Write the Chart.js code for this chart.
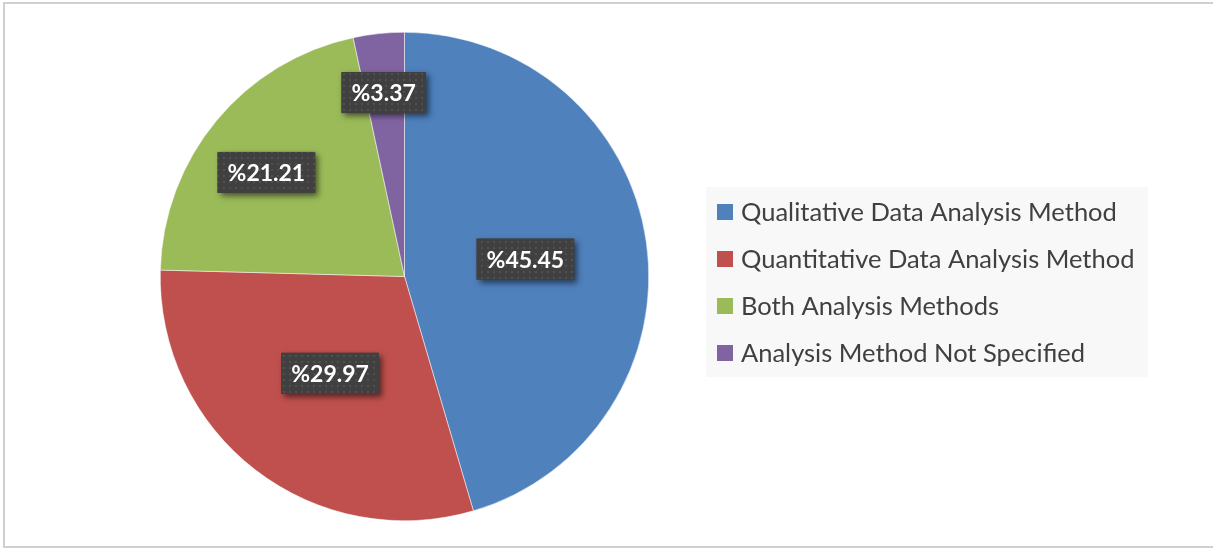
<!DOCTYPE html>
<html>
<head>
<meta charset="utf-8">
<script src="https://cdn.jsdelivr.net/npm/chart.js@4/dist/chart.umd.min.js"></script>
<style>
  html, body { margin: 0; padding: 0; background: #ffffff; }
  #wrap { position: absolute; left: 0; top: 0; width: 1213px; height: 549px; }
</style>
</head>
<body>
<div id="wrap"><canvas id="c" width="1213" height="549"></canvas></div>
<script>
const categories = [
  "Qualitative Data Analysis Method",
  "Quantitative Data Analysis Method",
  "Both Analysis Methods",
  "Analysis Method Not Specified"
];
const values = [45.45, 29.97, 21.21, 3.37];
const valueLabels = ["%45.45", "%29.97", "%21.21", "%3.37"];
const colors = ["#4f81bd", "#c0504d", "#9bbb59", "#8064a2"];
// label anchor distance from centre (fraction of radius) and angular nudge (deg) - style
const labelRadius = [0.50, 0.50, 0.708, 0.758];
const labelAngleNudge = [0, 0, -2.7, -0.4];

function makePattern(ctx) {
  const p = document.createElement('canvas');
  p.width = 6; p.height = 6;
  const pc = p.getContext('2d');
  pc.fillStyle = '#404040';
  pc.fillRect(0, 0, 6, 6);
  pc.fillStyle = '#505050';
  pc.fillRect(1, 1, 2, 2);
  return ctx.createPattern(p, 'repeat');
}

const decorPlugin = {
  id: 'decor',
  beforeDraw(chart) {
    const ctx = chart.ctx;
    ctx.save();
    ctx.fillStyle = '#ffffff';
    ctx.fillRect(0, 0, chart.width, chart.height);
    ctx.strokeStyle = '#d0d0d0';
    ctx.lineWidth = 2;
    ctx.beginPath();
    ctx.moveTo(1240, 3);
    ctx.lineTo(4, 3);
    ctx.lineTo(4, 547);
    ctx.lineTo(1240, 547);
    ctx.stroke();
    ctx.restore();
  },
  afterDraw(chart) {
    const ctx = chart.ctx;
    const meta = chart.getDatasetMeta(0);
    const pattern = makePattern(ctx);
    ctx.save();
    ctx.font = 'bold 23px Lato';
    ctx.textAlign = 'center';
    ctx.textBaseline = 'middle';
    meta.data.forEach((arc, i) => {
      const p = arc.getProps(['x', 'y', 'startAngle', 'endAngle', 'outerRadius'], true);
      const mid = (p.startAngle + p.endAngle) / 2 + labelAngleNudge[i] * Math.PI / 180;
      const r = p.outerRadius * labelRadius[i];
      const cx = p.x + Math.cos(mid) * r;
      const cy = p.y + Math.sin(mid) * r;
      const tw = ctx.measureText(valueLabels[i]).width;
      const w = tw + 20, h = 41;
      ctx.save();
      ctx.shadowColor = 'rgba(0,0,0,0.55)';
      ctx.shadowBlur = 6;
      ctx.shadowOffsetX = 3;
      ctx.shadowOffsetY = 3;
      ctx.fillStyle = '#404040';
      ctx.fillRect(cx - w / 2, cy - h / 2, w, h);
      ctx.restore();
      ctx.fillStyle = pattern;
      ctx.fillRect(cx - w / 2, cy - h / 2, w, h);
      ctx.fillStyle = '#ffffff';
      ctx.fillText(valueLabels[i], cx, cy + 1);
    });
    ctx.restore();

    ctx.save();
    ctx.fillStyle = '#f8f8f8';
    ctx.fillRect(706, 187, 442, 190);
    ctx.font = '25.5px Lato';
    ctx.textAlign = 'left';
    ctx.textBaseline = 'middle';
    const rowY = [212, 259, 306, 353];
    categories.forEach((c, i) => {
      ctx.fillStyle = colors[i];
      ctx.fillRect(717, rowY[i] - 8, 16, 16);
      ctx.fillStyle = '#404040';
      ctx.fillText(c, 741, rowY[i] + 1);
    });
    ctx.restore();
  }
};

new Chart(document.getElementById('c'), {
  type: 'pie',
  data: {
    labels: categories,
    datasets: [{
      data: values,
      backgroundColor: colors,
      borderColor: '#ffffff',
      borderWidth: 0.5
    }]
  },
  options: {
    responsive: false,
    animation: false,
    layout: { padding: { left: 160, right: 564, top: 31, bottom: 27 } },
    plugins: {
      legend: { display: false },
      tooltip: { enabled: false }
    }
  },
  plugins: [decorPlugin]
});
</script>
</body>
</html>
